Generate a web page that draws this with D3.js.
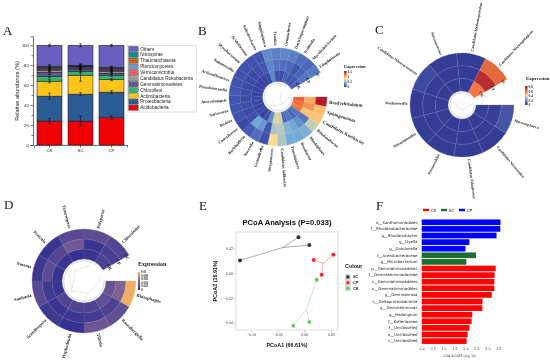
<!DOCTYPE html>
<html><head><meta charset="utf-8">
<script src="https://cdn.jsdelivr.net/npm/d3@7"></script>
<style>html,body{margin:0;padding:0;background:#fff}svg{display:block;filter:blur(.3px)}</style>
</head><body><svg id="c" width="550" height="362" viewBox="0 0 550 362"></svg>
<script>
// ---------- Panel A data
const aGroups = ["CK","SC","CP"];
const aPhyla = ["Acidobacteria","Proteobacteria","Actinobacteria","Chloroflexi","Gemmatimonadetes","Candidatus Rokubacteria","Verrucomicrobia","Planctomycetes","Thaumarchaeota","Nitrospirae","Others"];
const aColors = ["#f00000","#2c5c94","#fcc419","#35b56b","#5f5a8e","#9a9a9a","#f06060","#6e9bcc","#c8661a","#0a8a8a","#6a5fc0"];
const aCK = [24,25,15,5,4,1.5,1.5,1,1,1,21];
const aSC = [24,27,19,4,2,1,1,.5,.7,.8,20];
const aCP = [27.5,25.5,12.5,4.5,2,2,1,1,1,1,22];
const aErrCK = [2.5,3,1.5,1.5,1,1,1.5,1.5,1.5,1.5,1];
const aErrSC = [5,1.5,6,1.5,1,1,1.5,1,1.5,1.5,1.5];
const aErrCP = [1.5,1.5,1,1,.8,.8,1,1,1.5,1,1];
// ---------- Panel B data
const bLabels = ["Bradyrhizobium","Sphingomonas","Candidatus Koribacter","Rhodanobacter","Rhodoplanes","Bryobacter","Pseudolabrys","Candidatus Solibacter","Streptomyces","Granulicella","Nocardia","Burkholderia","Conexibacter","Rudaea","Variovorax","Amycolatopsis","Pseudonocardia","Actinoallomurus","Nakamurella","Mycobacterium","Acidothermus","Solirubrobacter","Singulisphaera","Frankia","Gemmatirosa","Dactylosporangium","Kribbella","Mycolicibacterium","Edaphobacter"];
const bOuter = [1.6,.96,.92,.66,.48,.46,.46,.6,.8,.1,.22,.16,.05,.1,.12,.12,.14,.12,.1,.1,.1,.12,.32,.28,.3,.28,.22,.2,.26];
const bMiddle = [1.04,1.12,.92,.24,.34,.44,.5,.62,.6,.14,.38,.44,.1,.06,.08,.08,.08,.06,.06,.06,.08,.14,.3,.24,.22,.2,.12,.18,.24];
const bInner = [1.28,1.24,1.2,.24,.2,.24,.2,.7,.72,.34,.1,.02,.06,.04,.04,.04,.02,.02,.02,.02,.02,.06,.3,.1,.08,.18,.14,.12,.18];
const bStops = [[0,"#3440a0"],[.15,"#4459b2"],[.3,"#5d86c8"],[.45,"#70aad8"],[.62,"#b5c9c0"],[.8,"#ffdc8c"],[1,"#fdb56a"],[1.3,"#ee5a34"],[1.6,"#b61a2c"]];
const bTree = [[[80,13],[110,9],[150,9],[170,7],[200,10],[230,12]],[[150,9],[140,5],[30,4]],[[200,10],[215,7],[250,8]]];
// ---------- Panel C data
const cLabels = ["Nitrososphaera","Candidatus Nitrosotalea","Candidatus Allonitrosus","Nitrosocaldus","Nitrosopumilus","Methanocella","Candidatus Nitrosocosmicus","Nitrososarcina","Candidatus Methanoperedens","Candidatus Nitrosopelagicus"];
const cOuter = [.08,.01,.01,.01,.01,.01,.05,.01,.01,.62];
const cMiddle = [.02,.01,.01,.01,.01,.01,.01,.01,.01,.8];
const cInner = [.02,.01,.01,.01,.01,.01,.01,.01,.01,.56];
const cStops = [[0,"#323a94"],[.1,"#4a5aa8"],[.3,"#7db0d0"],[.42,"#ffdc8c"],[.55,"#f57a45"],[.65,"#e0603a"],[.85,"#b01c2e"]];
const cTree = [[[80,12],[180,5],[260,6],[320,3]],[[180,5],[175,10]]];
// ---------- Panel D data
const dLabels = ["Rhizophagus","Rosenbergiella","Tilletia","Hyphodontia","Scutellospora","Sanitaria","Nosema","Pezicula","Enterospora","Polyporus","Chlorobolus"];
const dOuter = [.01,.003,.0038,.0002,.001,.0025,.0008,.0005,.0025,.0028,.0022];
const dMiddle = [.005,.0018,.0012,.0008,.0005,.001,.0028,.0022,.0042,.0005,.0015];
const dInner = [.0035,.003,.002,.002,.0022,.0005,.0003,.0005,.0002,.0005,.0018];
const dStops = [[0,"#322f8f"],[.005,"#7d6294"],[.0075,"#c08a7a"],[.01,"#f0ae66"]];
const dTree = [[[70,18],[105,13],[160,13],[230,16],[300,17]],[[160,13],[180,18]],[[230,16],[320,14],[20,16]]];
// ---------- Panel E data
const eSeries = ["SC","CP","CK"];
const eColors = ["#333333","#f22c2c","#72c472"];
const eX = [[-.011,.0094,-.1206],[.0545,.0176,.0326],[.0232,-.0206,.0094]];
const eY = [[.029,.0226,.0102],[.0148,.0105,-.0013],[-.0054,-.0425,-.0395]];
const eXTicks = [-.10,-.05,0,.05];
const eYTicks = [.02,0,-.02,-.04];
// ---------- Panel F data
const fTaxa = ["o__Xanthomonadales","f__Rhodanobacteraceae","g__Rhodanobacter","g__Dyella","g__Dokdonella","f__Acetobacteraceae","g__Microbacterium","p__Gemmatimonadetes","f__Gemmatimonadaceae","c__Gemmatimonadetes","o__Gemmatimonadales","g__Gemmatirosa","c__Deltaproteobacteria","g__Gemmatimonas","g__Haliangium","f__Kofleriaceae","f__Unclassified","o__Unclassified","c__Unclassified"];
const fScores = [3.6,3.59,3.42,2.18,2.0,2.48,2.04,3.38,3.33,3.32,3.32,3.2,2.78,2.77,2.31,2.28,2.18,2.1,2.05];
const fGroup = ["CP","CP","CP","CP","CP","SC","SC","CK","CK","CK","CK","CK","CK","CK","CK","CK","CK","CK","CK"];
const fNames = ["CK","SC","CP"];
const fColors = ["#ff0000","#1a6f30","#0000ff"];
const fTicks = [0,.5,1,1.5,2,2.5,3,3.5];
const letters = [["A",3,35],["B",198,35],["C",375,34],["D",4,209],["E",199,210],["F",376,210]];

const svg = d3.select("#c");
const SANS = "'Liberation Sans',Arial,sans-serif", SERIF = "'Liberation Serif','Times New Roman',serif";
svg.append("g").selectAll("text").data(letters).join("text")
  .attr("x",d=>d[1]).attr("y",d=>d[2]).text(d=>d[0])
  .attr("font-family",SERIF).attr("font-size",13).attr("fill","#111");

// ---------- A
(function(){
  const g = svg.append("g").attr("font-family",SANS);
  const x = d3.scaleBand().domain(aGroups).range([34,127]).paddingInner(.194).paddingOuter(.097);
  const y = d3.scaleLinear().domain([0,100]).range([145,45.3]);
  const tops = [aCK,aSC,aCP];
  const errs = [aErrCK,aErrSC,aErrCP];
  aGroups.forEach((name,i)=>{
    let c = 0;
    const rows = tops[i].map((v,j)=>{const r={y0:c,y1:c+v,c:aColors[j],e:errs[i][j]};c+=v;return r;});
    g.append("g").selectAll("rect").data(rows).join("rect")
      .attr("x",x(name)).attr("width",x.bandwidth())
      .attr("y",d=>y(d.y1)).attr("height",d=>y(d.y0)-y(d.y1))
      .attr("fill",d=>d.c).attr("stroke","#1c1c30").attr("stroke-width",.55);
    const cx = x(name)+x.bandwidth()/2;
    const eg = g.append("g").attr("stroke","#111").attr("stroke-width",.6);
    eg.selectAll("line.v").data(rows).join("line").attr("class","v")
      .attr("x1",cx).attr("x2",cx).attr("y1",d=>y(d.y1-d.e)).attr("y2",d=>y(d.y1+d.e));
    [-1,1].forEach(s=>eg.selectAll("line.c"+(s+1)).data(rows).join("line").attr("class","c"+(s+1))
      .attr("x1",cx-1.5).attr("x2",cx+1.5).attr("y1",d=>y(d.y1+s*d.e)).attr("y2",d=>y(d.y1+s*d.e)));
  });
  const yAxis = g.append("g").attr("transform","translate(33,0)")
    .call(d3.axisLeft(d3.scaleLinear().domain([0,109]).range([145,36.3])).tickValues(d3.range(0,101,20)).tickSize(2.5).tickPadding(1.5));
  g.append("g").attr("transform","translate(33,0)")
    .call(d3.axisLeft(y).tickValues(d3.range(10,100,20)).tickSize(1.5).tickFormat("")).call(s=>{s.select(".domain").remove();s.selectAll("line").attr("stroke","#111").attr("stroke-width",.6);});
  const xAxis = g.append("g").attr("transform","translate(0,145)")
    .call(d3.axisBottom(x).tickSize(2.5).tickPadding(1.5));
  [yAxis,xAxis].forEach(a=>{a.selectAll("text").attr("font-size",4.4).attr("font-family",SANS).attr("fill","#222");
    a.selectAll("line,path").attr("stroke","#111").attr("stroke-width",.6);});
  g.append("text").attr("transform","translate(19,91) rotate(-90)").attr("text-anchor","middle")
    .attr("font-size",5.6).attr("fill","#222").text("Relative abundance (%)");
  // legend
  g.append("rect").attr("x",127.5).attr("y",45.5).attr("width",69).attr("height",66.5).attr("fill","#fff").attr("stroke","#d4d4d4").attr("stroke-width",.7);
  const ly = d3.scalePoint().domain(aPhyla.slice().reverse()).range([49,107.7]);
  const lg = g.append("g").selectAll("g").data(aPhyla.map((p,i)=>({p,c:aColors[i]}))).join("g")
    .attr("transform",d=>`translate(128.7,${ly(d.p)})`);
  lg.append("rect").attr("y",-2.6).attr("width",9.5).attr("height",5.2).attr("fill",d=>d.c).attr("stroke","#444").attr("stroke-width",.35);
  lg.append("text").attr("x",11.5).attr("y",1.6).attr("font-size",4.7).attr("fill","#222").text(d=>d.p);
})();

// ---------- polar heatmaps
function polar(o){
  const g = svg.append("g").attr("transform",`translate(${o.cx},${o.cy})`).attr("font-family",SERIF);
  const col = d3.scaleLinear().domain(o.stops.map(d=>d[0])).range(o.stops.map(d=>d[1])).clamp(true);
  const n = o.labels.length;
  const ang = d3.scaleLinear().domain([0,n]).range([90,420]);
  const rad = d3.scaleLinear().domain([0,3]).range([o.r0,o.r1]);
  const arc = d3.arc();
  const rings = [o.inner,o.middle,o.outer];
  rings.forEach((vals,ri)=>{
    g.append("g").selectAll("path").data(vals).join("path")
      .attr("d",(v,i)=>arc({innerRadius:rad(ri),outerRadius:rad(ri+1),
        startAngle:ang(i)*Math.PI/180,endAngle:ang(i+1)*Math.PI/180}))
      .attr("fill",v=>col(v)).attr("stroke",v=>d3.interpolateRgb(col(v),"#ffffff")(o.grid)).attr("stroke-width",.3);
  });
  // dendrogram
  const line = d3.lineRadial().angle(d=>d[0]*Math.PI/180).radius(d=>d[1]);
  const tg = g.append("g").attr("fill","none").attr("stroke","#d0d0d0").attr("stroke-width",.5);
  tg.selectAll("path").data(o.tree).join("path").attr("d",d=>line(d));
  tg.append("path").attr("d",arc({innerRadius:o.r0-2,outerRadius:o.r0-1.6,startAngle:90*Math.PI/180,endAngle:(360+40)*Math.PI/180}));
  // labels
  g.append("g").selectAll("text").data(o.labels).join("text")
    .each(function(t,i){
      const a = ang(i+.5), left = ((a%360)+360)%360>180;
      d3.select(this).attr("transform",`rotate(${a-90}) translate(${o.r1+2.5},0)`+(left?" rotate(180)":""))
        .attr("text-anchor",left?"end":"start").attr("dy","0.33em")
        .attr("font-size",o.bold&&o.bold.includes(t)?o.fs+.6:o.fs).attr("font-weight","bold").attr("fill","#222").text(t);
    });
  // ring names at the gap
  const names = ["CK","CP","SC"];
  g.append("g").selectAll("text").data(names).join("text")
    .attr("transform",(d,i)=>`rotate(${420-90+1}) translate(${(rad(i)+rad(i+1))/2},0) rotate(90)`)
    .attr("text-anchor","middle").attr("dy",-.6).attr("font-size",o.fs).attr("font-weight","bold").attr("fill","#222").text(d=>d);
  // legend
  const id = "grad"+o.id;
  const lin = svg.append("defs").append("linearGradient").attr("id",id).attr("x1",0).attr("x2",0).attr("y1",1).attr("y2",0);
  const top = o.legDomain;
  lin.selectAll("stop").data(d3.range(0,1.001,.1)).join("stop")
    .attr("offset",d=>d).attr("stop-color",d=>col(d*top));
  const L = o.leg;
  svg.append("rect").attr("x",L.x).attr("y",L.y).attr("width",L.w).attr("height",L.h).attr("fill",`url(#${id})`);
  svg.append("text").attr("x",L.tx).attr("y",L.ty).attr("font-family",SERIF).attr("font-weight","bold").attr("font-size",L.tfs).attr("fill","#222").text("Expression");
  const ls = d3.scaleLinear().domain([0,top]).range([L.y+L.h,L.y]);
  svg.append("g").selectAll("text").data(o.legTicks).join("text")
    .attr("x",L.x+L.w+1).attr("y",d=>ls(d)+1).attr("font-family",SERIF).attr("font-size",L.fs).attr("font-weight","bold").attr("fill","#333").text(d=>d);
}
polar({id:"B",cx:278,cy:97,r0:15.5,r1:49,labels:bLabels,outer:bOuter,middle:bMiddle,inner:bInner,stops:bStops,tree:bTree,grid:.08,fs:4.1,
  bold:["Bradyrhizobium","Sphingomonas","Candidatus Koribacter"],legDomain:1.6,legTicks:[0,.5,1,1.5],
  leg:{x:344,y:71,w:2.6,h:16,tx:344,ty:68,tfs:4.6,fs:3.6}});
polar({id:"C",cx:462,cy:105,r0:14,r1:52,labels:cLabels,outer:cOuter,middle:cMiddle,inner:cInner,stops:cStops,tree:cTree,grid:.25,fs:3.9,
  legDomain:.85,legTicks:[0,.2,.4,.6,.8],leg:{x:525,y:86,w:2.6,h:19,tx:526,ty:80,tfs:5,fs:3.6}});
polar({id:"D",cx:84,cy:281,r0:22,r1:52,labels:dLabels,outer:dOuter,middle:dMiddle,inner:dInner,stops:dStops,tree:dTree,grid:.18,fs:4.5,
  legDomain:.01,legTicks:[0,.002,.004,.006,.008,.01],leg:{x:138,y:272,w:2,h:18,tx:138,ty:266,tfs:6,fs:3.2}});

// ---------- E
(function(){
  const g = svg.append("g").attr("font-family",SANS);
  const x = d3.scaleLinear().domain([-.10,.05]).range([251,331]);
  const y = d3.scaleLinear().domain([-.04,.02]).range([322.7,248.3]);
  g.append("rect").attr("x",236).attr("y",232).attr("width",102).attr("height",98).attr("fill","#fff").attr("stroke","#e2e2e2").attr("stroke-width",1.2);
  eSeries.forEach((s,i)=>{
    const px = eX[i], py = eY[i], mx = d3.mean(px), my = d3.mean(py);
    g.append("g").selectAll("line").data(px).join("line")
      .attr("x1",x(mx)).attr("y1",y(my)).attr("x2",d=>x(d)).attr("y2",(d,j)=>y(py[j]))
      .attr("stroke",eColors[i]).attr("stroke-opacity",.5).attr("stroke-width",.8);
    g.append("g").selectAll("circle").data(px).join("circle")
      .attr("cx",d=>x(d)).attr("cy",(d,j)=>y(py[j])).attr("r",2).attr("fill",eColors[i]);
  });
  const xa = g.append("g").attr("transform","translate(0,330.6)").call(d3.axisBottom(x).tickValues(eXTicks).tickFormat(d3.format(".2f")).tickSize(1.5).tickPadding(1));
  const ya = g.append("g").attr("transform","translate(235.4,0)").call(d3.axisLeft(y).tickValues(eYTicks).tickFormat(d3.format(".2f")).tickSize(1.5).tickPadding(1));
  [xa,ya].forEach(a=>{a.select(".domain").remove();a.selectAll("line").attr("stroke","#666").attr("stroke-width",.4);
    a.selectAll("text").attr("font-size",3.6).attr("font-family",SANS).attr("fill","#444");});
  g.append("text").attr("x",287).attr("y",225).attr("text-anchor","middle").attr("font-weight","bold").attr("font-size",7.6).attr("fill","#111").text("PCoA Analysis (P=0.033)");
  g.append("text").attr("x",287).attr("y",347).attr("text-anchor","middle").attr("font-weight","bold").attr("font-size",5.4).attr("fill","#111").text("PCoA1 (66.61%)");
  g.append("text").attr("transform","translate(216.5,281) rotate(-90)").attr("text-anchor","middle").attr("font-weight","bold").attr("font-size",5.4).attr("fill","#111").text("PCoA2 (16.91%)");
  g.append("text").attr("x",345).attr("y",267.5).attr("font-weight","bold").attr("font-size",5.4).attr("fill","#111").text("Colour");
  const ly = d3.scalePoint().domain(eSeries).range([277,288.4]);
  const k = g.append("g").selectAll("g").data(eSeries).join("g").attr("transform",d=>`translate(345,${ly(d)})`);
  k.append("rect").attr("x",0).attr("y",-2.9).attr("width",5.8).attr("height",5.8).attr("fill","#d8d8d8");
  k.append("circle").attr("cx",2.9).attr("r",1.8).attr("fill",(d,i)=>eColors[i]);
  k.append("text").attr("x",8).attr("y",1.4).attr("font-size",3.8).attr("font-weight","bold").attr("fill","#222").text(d=>d);
})();

// ---------- F
(function(){
  const g = svg.append("g").attr("font-family","'DejaVu Sans',sans-serif");
  const x = d3.scaleLinear().domain([0,3.5]).range([421.7,498.3]);
  const y = d3.scaleBand().domain(fTaxa).range([219,344.4]).paddingInner(.14).paddingOuter(.07);
  const col = d3.scaleOrdinal(fNames,fColors);
  g.append("g").selectAll("rect").data(fScores).join("rect")
    .attr("x",x(0)).attr("y",(d,i)=>y(fTaxa[i])).attr("width",d=>x(d)-x(0)).attr("height",y.bandwidth())
    .attr("fill",(d,i)=>col(fGroup[i]));
  g.append("g").selectAll("text").data(fTaxa).join("text")
    .attr("x",417.5).attr("y",d=>y(d)+y.bandwidth()/2).attr("dy","0.35em").attr("text-anchor","end")
    .attr("font-size",3.9).attr("fill","#222").text(d=>d);
  const xa = g.append("g").attr("transform","translate(0,346)").call(d3.axisBottom(x).tickValues(fTicks).tickFormat(d3.format(".1f")).tickSize(1).tickPadding(1));
  xa.select(".domain").remove();
  xa.selectAll("line").attr("stroke","#555").attr("stroke-width",.3);
  xa.selectAll("text").attr("font-size",3.3).attr("font-family","'DejaVu Sans',sans-serif").attr("fill","#333");
  g.append("text").attr("x",460).attr("y",357).attr("text-anchor","middle").attr("font-size",3.3).attr("fill","#333").text("LDA SCORE (log 10)");
  const lx = d3.scalePoint().domain(fNames).range([423,459]);
  const k = g.append("g").selectAll("g").data(fNames).join("g").attr("transform",d=>`translate(${lx(d)},210)`);
  k.append("rect").attr("y",-1.2).attr("width",6).attr("height",2.4).attr("fill",d=>col(d));
  k.append("text").attr("x",8).attr("y",1.5).attr("font-size",4).attr("fill","#222").text(d=>d);
})();
</script></body></html>
